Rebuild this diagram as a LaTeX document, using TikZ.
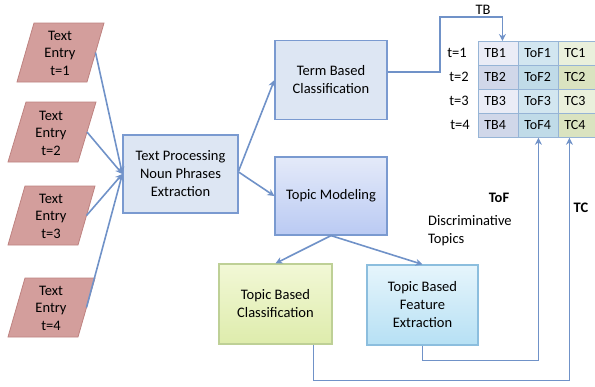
\documentclass[tikz,border=0pt]{standalone}
\usepackage{fontspec}
\setmainfont{Carlito}
\usetikzlibrary{arrows.meta,calc}
\definecolor{arrc}{RGB}{112,146,200}
\definecolor{rosef}{RGB}{211,158,156}
\definecolor{rosed}{RGB}{190,130,128}
\definecolor{bluef}{RGB}{221,230,243}
\definecolor{blued}{RGB}{122,154,208}
\definecolor{tmtop}{RGB}{228,234,249}
\definecolor{tmbot}{RGB}{186,202,243}
\definecolor{grtop}{RGB}{242,248,214}
\definecolor{grbot}{RGB}{222,236,172}
\definecolor{grd}{RGB}{190,208,150}
\definecolor{cytop}{RGB}{230,245,252}
\definecolor{cybot}{RGB}{182,224,244}
\definecolor{cyd}{RGB}{140,190,222}
\definecolor{tbA}{RGB}{234,236,246}
\definecolor{tbB}{RGB}{208,215,233}
\definecolor{tofA}{RGB}{210,230,240}
\definecolor{tofB}{RGB}{192,219,232}
\definecolor{tcA}{RGB}{234,240,220}
\definecolor{tcB}{RGB}{218,227,192}
\definecolor{celld}{RGB}{150,180,214}
\tikzset{
  arr/.style={draw=arrc, line width=1.6pt, -{Stealth[length=7pt,width=7pt]}},
  entrytext/.style={align=center, font=\fontsize{14.5}{17.5}\selectfont, inner sep=0pt},
  para/.style={fill=rosef, draw=rosed, line width=0.8pt},
  box/.style={draw=blued, line width=1.2pt, fill=bluef, minimum width=113pt, minimum height=79pt, align=center, font=\fontsize{14.5}{18}\selectfont},
  tmbox/.style={box, fill=none, top color=tmtop, bottom color=tmbot},
  grbox/.style={box, draw=grd, fill=none, top color=grtop, bottom color=grbot},
  cybox/.style={box, draw=cyd, fill=none, top color=cytop, bottom color=cybot},
  cell/.style={draw=celld, line width=0.8pt, minimum height=24pt, text width=28pt, inner xsep=6pt, align=left, anchor=north west, font=\fontsize{14}{16}\selectfont},
  lbl/.style={font=\fontsize{14.5}{18}\selectfont, inner sep=1pt},
}
\begin{document}
\begin{tikzpicture}[x=1pt,y=-1pt]
\useasboundingbox (0,0) rectangle (595,386);
% entries
\path[para] (17,82) -- (87,82) -- (104,23) -- (34,23) -- cycle;
\coordinate (e1) at (95.5,52.5);
\node[entrytext] (t1) at (60,53) {Text\\Entry\\t=1};
\path[para] (8,162) -- (78,162) -- (96,102) -- (26,102) -- cycle;
\coordinate (e2) at (87,132);
\node[entrytext] (t2) at (51,133) {Text\\Entry\\t=2};
\path[para] (8,245) -- (78,245) -- (95,186) -- (25,186) -- cycle;
\coordinate (e3) at (86.5,215.5);
\node[entrytext] (t3) at (51,216) {Text\\Entry\\t=3};
\path[para] (8,337) -- (78,337) -- (95,278) -- (25,278) -- cycle;
\coordinate (e4) at (86.5,307.5);
\node[entrytext] (t4) at (51,308) {Text\\Entry\\t=4};
% boxes
\node[box, minimum width=115pt, minimum height=78pt] (tp) at (180.5,174) {Text Processing\\Noun Phrases\\Extraction};
\node[box, minimum width=112pt] (term) at (331,80) {Term Based\\Classification};
\node[tmbox, minimum width=112pt, minimum height=78pt] (tm) at (331,196) {Topic Modeling};
\node[grbox, minimum height=80pt] (tbc) at (275.5,304) {Topic Based\\Classification};
\node[cybox, minimum width=111pt, minimum height=80pt] (tbfe) at (422.5,305) {Topic Based\\Feature\\Extraction};
% table
\node[cell, fill=tbA] (tb1) at (478,41) {TB1};
\node[cell, fill=tbB] (tb2) at (478,65) {TB2};
\node[cell, fill=tbA] (tb3) at (478,89) {TB3};
\node[cell, fill=tbB] (tb4) at (478,113) {TB4};
\node[cell, fill=tofA] (tof1) at (518,41) {ToF1};
\node[cell, fill=tofB] (tof2) at (518,65) {ToF2};
\node[cell, fill=tofA] (tof3) at (518,89) {ToF3};
\node[cell, fill=tofB] (tof4) at (518,113) {ToF4};
\node[cell, fill=tcA, text width=26pt] (tc1) at (558,41) {TC1};
\node[cell, fill=tcB, text width=26pt] (tc2) at (558,65) {TC2};
\node[cell, fill=tcA, text width=26pt] (tc3) at (558,89) {TC3};
\node[cell, fill=tcB, text width=26pt] (tc4) at (558,113) {TC4};
\node[lbl, anchor=east] (r1) at (468,53) {t=1};
\node[lbl, anchor=east] (r2) at (470,77) {t=2};
\node[lbl, anchor=east] (r3) at (470,101) {t=3};
\node[lbl, anchor=east] (r4) at (471,125) {t=4};
% labels
\node[lbl] (tblbl) at (483,10) {TB};
\node[lbl, font=\fontsize{14.5}{18}\selectfont\bfseries] (toflbl) at (499,198) {ToF};
\node[lbl, align=left, anchor=west] (disc) at (427,231) {Discriminative\\Topics};
\node[lbl, font=\fontsize{14.5}{18}\selectfont\bfseries] (tclbl) at (581,208) {TC};
% connectors
\draw[arr] (e1) -- (tp.west);
\draw[arr] (e2) -- (tp.west);
\draw[arr] (e3) -- (tp.west);
\draw[arr] (e4) -- (tp.west);
\draw[arr] ($(tp.east)+(0,-3)$) -- (term.west);
\draw[arr] ($(tp.east)+(0,-2)$) -- (tm.west);
\draw[arr] (tm.south) -- (tbc.north);
\draw[arr] (tm.south) -- (tbfe.north);
\draw[arr] ($(term.east)+(0,-8)$) -| (440,17) -| ($(tb1.north)+(4,0)$);
\draw[arr] (tbfe.south) -- ++(0,15) -| (tof4.south);
\draw[arr] ($(tbc.south)+(38,0)$) -- ++(0,36) -| ($(tc4.south)+(-8,0)$);
\end{tikzpicture}
\end{document}
